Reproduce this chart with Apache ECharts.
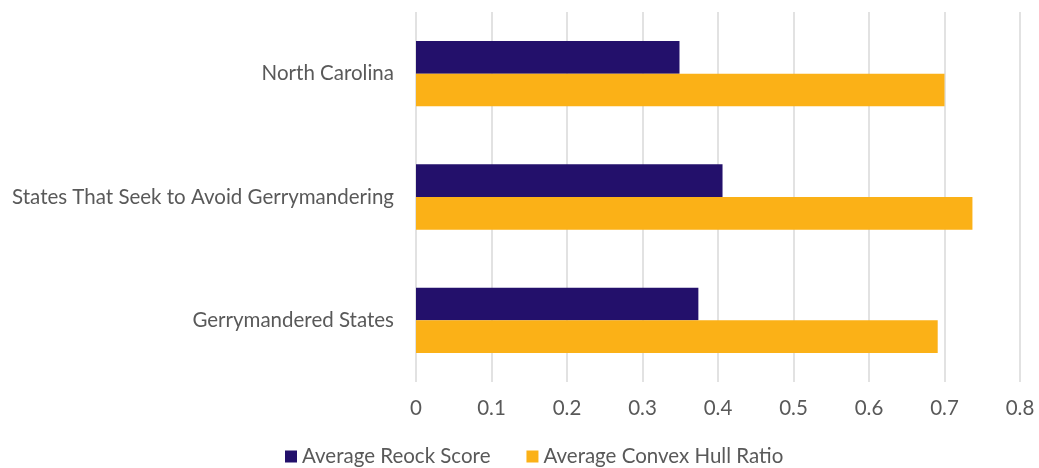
<!DOCTYPE html>
<html>
<head>
<meta charset="utf-8">
<script src="https://cdn.jsdelivr.net/npm/echarts@6/dist/echarts.min.js"></script>
<style>
  html, body { margin: 0; padding: 0; background: #ffffff; }
  #chart { width: 1039px; height: 468px; }
</style>
</head>
<body>
<div id="chart"></div>
<script>
// Categories listed bottom to top (category y-axis starts at the bottom)
const categories = ['Gerrymandered States', 'States That Seek to Avoid Gerrymandering', 'North Carolina'];
const seriesNames = ['Average Reock Score', 'Average Convex Hull Ratio'];
const reockScores = [0.374, 0.406, 0.349];
const convexHullRatios = [0.691, 0.737, 0.700];
const xTicks = [0, 0.1, 0.2, 0.3, 0.4, 0.5, 0.6, 0.7, 0.8];

const fontFamily = 'Lato, "Open Sans", sans-serif';
const textColor = '#595959';
const fontSize = 20.5;

const chart = echarts.init(document.getElementById('chart'), null, { renderer: 'canvas' });

chart.setOption({
  animation: false,
  backgroundColor: '#ffffff',
  textStyle: { fontFamily: fontFamily },
  grid: { left: 416, right: 19, top: 12, bottom: 86, containLabel: false },
  legend: {
    data: seriesNames,
    top: 441,
    left: 280,
    itemWidth: 12,
    itemHeight: 12,
    itemGap: 36,
    icon: 'rect',
    textStyle: { color: textColor, fontSize: fontSize, fontFamily: fontFamily }
  },
  xAxis: {
    type: 'value',
    min: xTicks[0],
    max: xTicks[xTicks.length - 1],
    interval: 0.1,
    axisLine: { show: false },
    axisTick: { show: false },
    splitLine: { show: true, lineStyle: { color: '#d9d9d9', width: 1.5 } },
    axisLabel: {
      color: textColor,
      fontSize: fontSize,
      margin: 16,
      fontFamily: fontFamily,
      formatter: v => String(Math.round(v * 10) / 10)
    }
  },
  yAxis: {
    type: 'category',
    data: categories,
    axisLine: { show: false },
    axisTick: { show: false },
    axisLabel: { color: textColor, fontSize: fontSize, margin: 22, fontFamily: fontFamily }
  },
  series: [
    {
      name: seriesNames[0],
      type: 'bar',
      data: reockScores,
      itemStyle: { color: '#23106b' },
      barGap: '0%',
      barCategoryGap: '47%'
    },
    {
      name: seriesNames[1],
      type: 'bar',
      data: convexHullRatios,
      itemStyle: { color: '#fbb117' },
      barGap: '0%',
      barCategoryGap: '47%'
    }
  ]
});
</script>
</body>
</html>
